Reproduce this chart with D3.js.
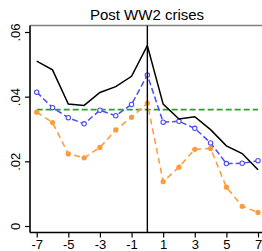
<!DOCTYPE html>
<html>
<head>
<meta charset="utf-8">
<script src="https://cdn.jsdelivr.net/npm/d3@7"></script>
<style>
  body { margin: 0; background: #fff; }
  svg { display: block; font-family: "Liberation Sans", Arial, sans-serif; }
</style>
</head>
<body>
<div id="chart"></div>
<script>
const years = [-7, -6, -5, -4, -3, -2, -1, 0, 1, 2, 3, 4, 5, 6, 7];
const blackSeries = [0.0510, 0.0483, 0.0377, 0.0373, 0.0413, 0.0431, 0.0463, 0.0558, 0.0377, 0.0331, 0.0338, 0.0298, 0.0248, 0.0224, 0.0174];
const blueSeries = [0.0414, 0.0366, 0.0335, 0.0316, 0.0358, 0.0341, 0.0376, 0.0467, 0.0321, 0.0324, 0.0302, 0.0257, 0.0193, 0.0194, 0.0202];
const orangeSeries = [0.0352, 0.0320, 0.0223, 0.0211, 0.0243, 0.0297, 0.0336, 0.0380, 0.0137, 0.0182, 0.0237, 0.0240, 0.0120, 0.0061, 0.0042];
const greenLevel = 0.0360;
const xTicks = [-7, -5, -3, -1, 1, 3, 5, 7];
const yTicks = [0, 0.02, 0.04, 0.06];
const yTickLabels = ["0", ".02", ".04", ".06"];
const title = "Post WW2 crises";

const width = 262, height = 251;
const x = d3.scaleLinear([-7, 7], [36.7, 258]);
const y = d3.scaleLinear([0, 0.06], [226, 32]);

const svg = d3.select("#chart").append("svg")
    .attr("width", width)
    .attr("height", height)
    .attr("viewBox", [0, 0, width, height]);

// top frame of plot region
svg.append("line")
    .attr("x1", 30).attr("x2", width)
    .attr("y1", 25.5).attr("y2", 25.5)
    .attr("stroke", "#808080")
    .attr("stroke-width", 1.6);

svg.append("text")
    .attr("x", 147)
    .attr("y", 19.5)
    .attr("text-anchor", "middle")
    .attr("font-size", 15)
    .text(title);

// axes
const xAxis = svg.append("g")
    .attr("transform", "translate(0,232.5)")
    .call(d3.axisBottom(x).tickValues(xTicks).tickSize(5).tickPadding(3).tickFormat(d => String(d)));
xAxis.select(".domain").attr("d", `M30,0H${width}`).attr("stroke-width", 1.6);
xAxis.selectAll(".tick text").attr("font-size", 13).attr("fill", "#000").attr("dy", "0.68em");
xAxis.selectAll(".tick line").attr("stroke-width", 1.2);

const yAxis = svg.append("g")
    .attr("transform", "translate(30,0)")
    .call(d3.axisLeft(y).tickValues(yTicks).tickSize(5).tickFormat((d, i) => yTickLabels[i]));
yAxis.select(".domain").attr("d", "M0,25.5V232.5").attr("stroke-width", 1.6);
yAxis.selectAll(".tick line").attr("stroke-width", 1.2);
yAxis.selectAll(".tick text")
    .attr("font-size", 13)
    .attr("fill", "#000")
    .attr("x", null).attr("dy", null)
    .attr("text-anchor", "middle")
    .attr("transform", "translate(-10,0) rotate(-90)");

const line = d3.line().x((d, i) => x(years[i])).y(d => y(d));

// green reference line
svg.append("line")
    .attr("x1", x(-7)).attr("x2", x(7))
    .attr("y1", y(greenLevel)).attr("y2", y(greenLevel))
    .attr("stroke", "#2f9e2f")
    .attr("stroke-width", 1.8)
    .attr("stroke-dasharray", "6,3");

// orange series
svg.append("path")
    .datum(orangeSeries)
    .attr("fill", "none")
    .attr("stroke", "#ff9a3a")
    .attr("stroke-width", 1.5)
    .attr("stroke-dasharray", "6,4")
    .attr("d", line);
svg.append("g").selectAll("circle")
    .data(orangeSeries)
    .join("circle")
    .attr("cx", (d, i) => x(years[i]))
    .attr("cy", d => y(d))
    .attr("r", 2.6)
    .attr("fill", "#ff9a3a");

// blue series
svg.append("path")
    .datum(blueSeries)
    .attr("fill", "none")
    .attr("stroke", "#4b4bff")
    .attr("stroke-width", 1.5)
    .attr("stroke-dasharray", "6,3")
    .attr("d", line);
svg.append("g").selectAll("circle")
    .data(blueSeries)
    .join("circle")
    .attr("cx", (d, i) => x(years[i]))
    .attr("cy", d => y(d))
    .attr("r", 2.2)
    .attr("fill", "#fff")
    .attr("stroke", "#4b4bff")
    .attr("stroke-width", 1.1);

// black series
svg.append("path")
    .datum(blackSeries)
    .attr("fill", "none")
    .attr("stroke", "#000")
    .attr("stroke-width", 1.5)
    .attr("d", line);

// vertical line at 0
svg.append("line")
    .attr("x1", x(0)).attr("x2", x(0))
    .attr("y1", 25.5).attr("y2", 232.5)
    .attr("stroke", "#000")
    .attr("stroke-width", 1.4);
</script>
</body>
</html>
